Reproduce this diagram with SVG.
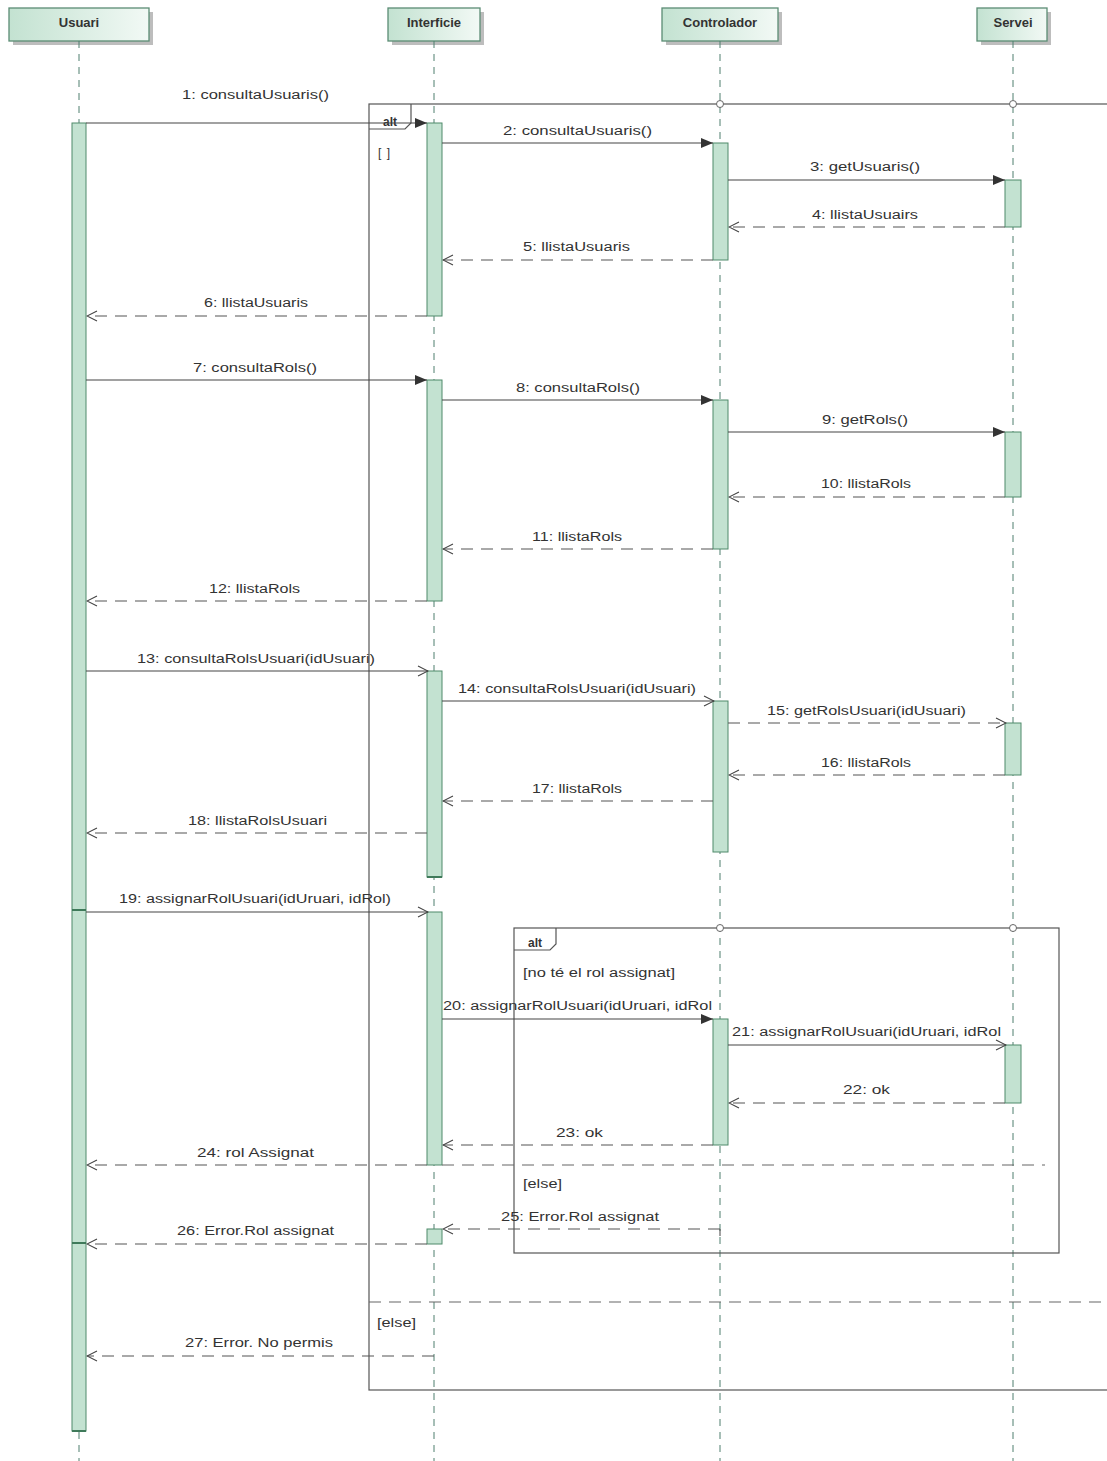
<svg xmlns="http://www.w3.org/2000/svg" width="1107" height="1461" viewBox="0 0 1107 1461">
<style>
text{font-family:"Liberation Sans",Arial,sans-serif;font-size:12px;fill:#333}
.hd{font-weight:bold;text-anchor:middle;font-size:13px}
.box{fill:url(#hg);stroke:#5b8c74;stroke-width:1.3}
.sh{fill:#bdbdbd}
.life{stroke:#4f7f6f;stroke-width:1;stroke-dasharray:7 6;fill:none}
.act{fill:#c3e2d1;stroke:#4f8a6a;stroke-width:1}
.seg{stroke:#3f7a5a;stroke-width:2}
.msg{stroke:#444;stroke-width:1.1;fill:none}
.ret{stroke:#555;stroke-width:1.1;fill:none;stroke-dasharray:12 8}
.call{marker-end:url(#fa)}
.async{marker-end:url(#oa)}
.frame{fill:none;stroke:#555;stroke-width:1.2}
.sep{stroke:#666;stroke-width:1.2;stroke-dasharray:12 8;fill:none}
.circ{fill:#fff;stroke:#666;stroke-width:1}
.tab{font-weight:bold}
</style>
<defs>
<linearGradient id="hg" x1="0" y1="0" x2="1" y2="0">
<stop offset="0" stop-color="#c3e2d1"/>
<stop offset="1" stop-color="#f2f9f5"/>
</linearGradient>
<marker id="fa" viewBox="0 0 12 10" refX="12" refY="5" markerUnits="userSpaceOnUse" markerWidth="12" markerHeight="10" orient="auto">
<path d="M0,0 L12,5 L0,10 z" fill="#333"/>
</marker>
<marker id="oa" viewBox="0 0 12 12" refX="11" refY="6" markerUnits="userSpaceOnUse" markerWidth="12" markerHeight="12" orient="auto">
<path d="M1,1 L11,6 L1,11" fill="none" stroke="#444" stroke-width="1.1"/>
</marker>
</defs>
<rect width="1107" height="1461" fill="#fff"/>

<!-- Lifelines -->
<g id="usuari">
<rect class="sh" x="13" y="12" width="140" height="33"/>
<rect class="box" x="9" y="8" width="140" height="33"/>
<text class="hd" x="79" y="27">Usuari</text>
<line class="life" x1="79" y1="41" x2="79" y2="1461"/>
<rect class="act" x="72" y="123" width="14" height="1308"/>
<line class="seg" x1="72" y1="910" x2="86" y2="910"/>
<line class="seg" x1="72" y1="1243" x2="86" y2="1243"/>
<line class="seg" x1="72" y1="1431" x2="86" y2="1431"/>
</g>
<g id="interficie">
<rect class="sh" x="392" y="12" width="92" height="33"/>
<rect class="box" x="388" y="8" width="92" height="33"/>
<text class="hd" x="434" y="27">Interficie</text>
<line class="life" x1="434" y1="41" x2="434" y2="1461"/>
<rect class="act" x="427" y="123" width="15" height="193"/>
<rect class="act" x="427" y="380" width="15" height="221"/>
<rect class="act" x="427" y="671" width="15" height="206"/>
<line class="seg" x1="427" y1="877" x2="442" y2="877"/>
<rect class="act" x="427" y="912" width="15" height="253"/>
<rect class="act" x="427" y="1229" width="15" height="15"/>
</g>
<g id="controlador">
<rect class="sh" x="666" y="12" width="116" height="33"/>
<rect class="box" x="662" y="8" width="116" height="33"/>
<text class="hd" x="720" y="27">Controlador</text>
<line class="life" x1="720" y1="41" x2="720" y2="1461"/>
<rect class="act" x="713" y="143" width="15" height="117"/>
<rect class="act" x="713" y="400" width="15" height="149"/>
<rect class="act" x="713" y="701" width="15" height="151"/>
<rect class="act" x="713" y="1019" width="15" height="126"/>
</g>
<g id="servei">
<rect class="sh" x="981" y="12" width="70" height="33"/>
<rect class="box" x="977" y="8" width="70" height="33"/>
<text class="hd" x="1013" y="27">Servei</text>
<line class="life" x1="1013" y1="41" x2="1013" y2="1461"/>
<rect class="act" x="1005" y="180" width="16" height="47"/>
<rect class="act" x="1005" y="432" width="16" height="65"/>
<rect class="act" x="1005" y="723" width="16" height="52"/>
<rect class="act" x="1005" y="1045" width="16" height="58"/>
</g>

<!-- Combined fragments -->
<g id="alt-outer">
<rect class="frame" x="369" y="104" width="760" height="1286"/>
<path class="frame" d="M369,129 L405,129 L411,123 L411,104"/>
<text class="tab" x="383" y="126">alt</text>
<circle class="circ" cx="720" cy="104" r="3.5"/>
<circle class="circ" cx="1013" cy="104" r="3.5"/>
<text x="378" y="157" textLength="12" lengthAdjust="spacing">[ ]</text>
<line class="sep" x1="369" y1="1302" x2="1107" y2="1302"/>
<text x="377" y="1327" textLength="39" lengthAdjust="spacingAndGlyphs">[else]</text>
</g>
<g id="alt-inner">
<rect class="frame" x="514" y="928" width="545" height="325"/>
<path class="frame" d="M514,950 L550,950 L556,944 L556,928"/>
<text class="tab" x="528" y="947">alt</text>
<circle class="circ" cx="720" cy="928" r="3.5"/>
<circle class="circ" cx="1013" cy="928" r="3.5"/>
<text x="523" y="977" textLength="152" lengthAdjust="spacingAndGlyphs">[no té el rol assignat]</text>
<line class="sep" x1="442" y1="1165" x2="1045" y2="1165"/>
<text x="523" y="1188" textLength="39" lengthAdjust="spacingAndGlyphs">[else]</text>
</g>

<!-- Connectors -->
<g id="connectors">
<line class="msg call" x1="86" y1="123" x2="427" y2="123"/>
<text x="182" y="99" textLength="147" lengthAdjust="spacingAndGlyphs">1: consultaUsuaris()</text>
<line class="msg call" x1="442" y1="143" x2="713" y2="143"/>
<text x="503" y="135" textLength="149" lengthAdjust="spacingAndGlyphs">2: consultaUsuaris()</text>
<line class="msg call" x1="728" y1="180" x2="1005" y2="180"/>
<text x="810" y="171" textLength="110" lengthAdjust="spacingAndGlyphs">3: getUsuaris()</text>
<line class="ret async" x1="1005" y1="227" x2="729" y2="227"/>
<text x="812" y="219" textLength="106" lengthAdjust="spacingAndGlyphs">4: llistaUsuairs</text>
<line class="ret async" x1="713" y1="260" x2="443" y2="260"/>
<text x="523" y="251" textLength="107" lengthAdjust="spacingAndGlyphs">5: llistaUsuaris</text>
<line class="ret async" x1="427" y1="316" x2="87" y2="316"/>
<text x="204" y="307" textLength="104" lengthAdjust="spacingAndGlyphs">6: llistaUsuaris</text>

<line class="msg call" x1="86" y1="380" x2="427" y2="380"/>
<text x="193" y="372" textLength="124" lengthAdjust="spacingAndGlyphs">7: consultaRols()</text>
<line class="msg call" x1="442" y1="400" x2="713" y2="400"/>
<text x="516" y="392" textLength="124" lengthAdjust="spacingAndGlyphs">8: consultaRols()</text>
<line class="msg call" x1="728" y1="432" x2="1005" y2="432"/>
<text x="822" y="424" textLength="86" lengthAdjust="spacingAndGlyphs">9: getRols()</text>
<line class="ret async" x1="1005" y1="497" x2="729" y2="497"/>
<text x="821" y="488" textLength="90" lengthAdjust="spacingAndGlyphs">10: llistaRols</text>
<line class="ret async" x1="713" y1="549" x2="443" y2="549"/>
<text x="532" y="541" textLength="90" lengthAdjust="spacingAndGlyphs">11: llistaRols</text>
<line class="ret async" x1="427" y1="601" x2="87" y2="601"/>
<text x="209" y="593" textLength="91" lengthAdjust="spacingAndGlyphs">12: llistaRols</text>

<line class="msg async" x1="86" y1="671" x2="428" y2="671"/>
<text x="137" y="663" textLength="238" lengthAdjust="spacingAndGlyphs">13: consultaRolsUsuari(idUsuari)</text>
<line class="msg async" x1="442" y1="701" x2="714" y2="701"/>
<text x="458" y="693" textLength="238" lengthAdjust="spacingAndGlyphs">14: consultaRolsUsuari(idUsuari)</text>
<line class="ret async" x1="728" y1="723" x2="1006" y2="723"/>
<text x="767" y="715" textLength="199" lengthAdjust="spacingAndGlyphs">15: getRolsUsuari(idUsuari)</text>
<line class="ret async" x1="1005" y1="775" x2="729" y2="775"/>
<text x="821" y="767" textLength="90" lengthAdjust="spacingAndGlyphs">16: llistaRols</text>
<line class="ret async" x1="713" y1="801" x2="443" y2="801"/>
<text x="532" y="793" textLength="90" lengthAdjust="spacingAndGlyphs">17: llistaRols</text>
<line class="ret async" x1="427" y1="833" x2="87" y2="833"/>
<text x="188" y="825" textLength="139" lengthAdjust="spacingAndGlyphs">18: llistaRolsUsuari</text>

<line class="msg async" x1="86" y1="912" x2="428" y2="912"/>
<text x="119" y="903" textLength="272" lengthAdjust="spacingAndGlyphs">19: assignarRolUsuari(idUruari, idRol)</text>
<line class="msg call" x1="442" y1="1019" x2="713" y2="1019"/>
<text x="443" y="1010" textLength="269" lengthAdjust="spacingAndGlyphs">20: assignarRolUsuari(idUruari, idRol</text>
<line class="msg async" x1="728" y1="1045" x2="1006" y2="1045"/>
<text x="732" y="1036" textLength="269" lengthAdjust="spacingAndGlyphs">21: assignarRolUsuari(idUruari, idRol</text>
<line class="ret async" x1="1005" y1="1103" x2="729" y2="1103"/>
<text x="843" y="1094" textLength="47" lengthAdjust="spacingAndGlyphs">22: ok</text>
<line class="ret async" x1="713" y1="1145" x2="443" y2="1145"/>
<text x="556" y="1137" textLength="47" lengthAdjust="spacingAndGlyphs">23: ok</text>
<line class="ret async" x1="427" y1="1165" x2="87" y2="1165"/>
<text x="197" y="1157" textLength="117" lengthAdjust="spacingAndGlyphs">24: rol Assignat</text>
<path class="ret" d="M720,1236 L720,1229"/>
<line class="ret async" x1="720" y1="1229" x2="443" y2="1229"/>
<text x="501" y="1221" textLength="158" lengthAdjust="spacingAndGlyphs">25: Error.Rol assignat</text>
<line class="ret async" x1="427" y1="1244" x2="87" y2="1244"/>
<text x="177" y="1235" textLength="157" lengthAdjust="spacingAndGlyphs">26: Error.Rol assignat</text>
<line class="ret async" x1="434" y1="1356" x2="87" y2="1356"/>
<text x="185" y="1347" textLength="148" lengthAdjust="spacingAndGlyphs">27: Error. No permis</text>
</g>
</svg>
